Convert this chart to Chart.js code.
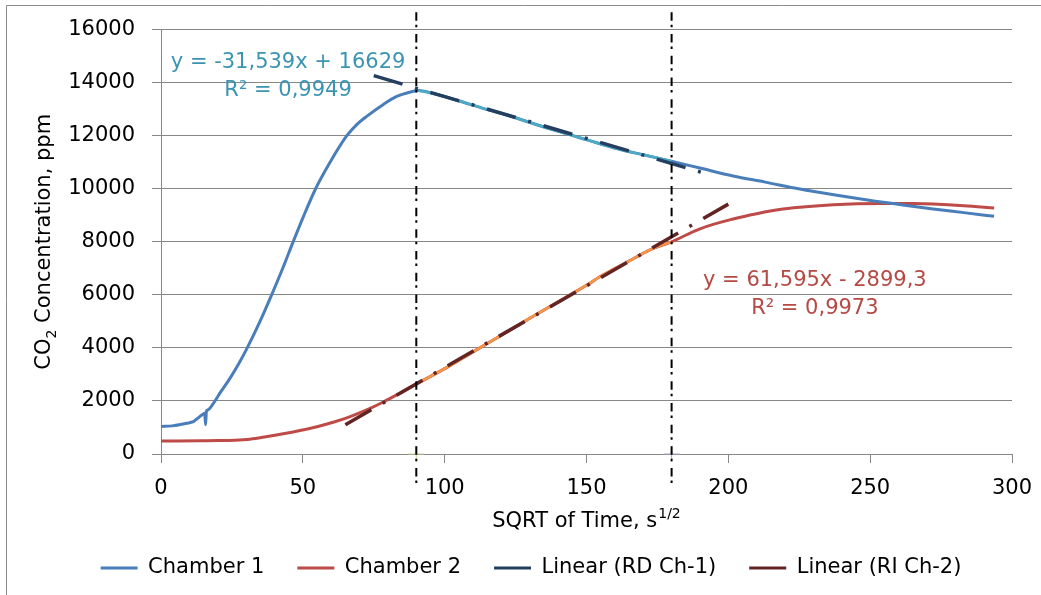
<!DOCTYPE html>
<html>
<head>
<meta charset="utf-8">
<script src="https://cdn.jsdelivr.net/npm/chart.js@4.4.0/dist/chart.umd.min.js"></script>
<style>
  html, body { margin: 0; padding: 0; background: #fff; }
  canvas { display: block; }
</style>
</head>
<body>
<canvas id="chart" width="1041" height="595"></canvas>
<script>
// values
const ch1X = [0, 4, 9, 11.4, 12.6, 14.9, 15.4, 15.7, 16.0, 16.5, 18.4, 21, 24.3, 27.5, 30.4, 34.9, 39, 43.1, 46.4, 50.2, 54.5, 59.6, 65.5, 69, 72.5, 78.4, 83.1, 87, 90.7, 97, 105.4, 113, 121.9, 130, 139.5, 150, 160.6, 170, 179.9, 190, 201.7, 213, 225.2, 240, 254.6, 272.2, 283, 293.7];
const ch1Y = [1040, 1060, 1160, 1220, 1320, 1510, 1540, 1100, 1600, 1660, 1900, 2330, 2850, 3420, 4000, 5000, 6000, 7050, 7950, 8950, 10000, 11000, 12000, 12420, 12730, 13180, 13480, 13620, 13700, 13560, 13300, 13050, 12780, 12500, 12180, 11850, 11520, 11280, 11040, 10780, 10480, 10250, 9990, 9730, 9490, 9240, 9100, 8960];
const ch2X = [0, 15, 20, 26, 31.4, 37, 43.1, 49, 55, 60.7, 66, 72.5, 78.4, 84, 90.1, 101.9, 110, 120, 130, 140, 150, 154.7, 166.5, 172, 179.8, 190, 201.7, 210, 219.3, 237, 254.6, 265, 272.2, 283, 293.7];
const ch2Y = [490, 500, 505, 520, 560, 650, 762, 886, 1030, 1196, 1380, 1660, 1960, 2280, 2640, 3330, 3850, 4480, 5120, 5740, 6360, 6680, 7360, 7680, 7990, 8490, 8860, 9060, 9234, 9398, 9447, 9440, 9421, 9360, 9271];
// trendline ends (y = -31,539x + 16629 and y = 61,595x - 2899,3)
const rdTrendX = [75, 192];
const rdTrendY = [14264, 10573];
const riTrendX = [65, 200];
const riTrendY = [1104, 9420];
// fitting window limits
const limitX = [90, 180];
const limitY = [16650, -1300];
const xTicks = [0, 50, 100, 150, 200, 250, 300];
const yTicks = [0, 2000, 4000, 6000, 8000, 10000, 12000, 14000, 16000];
const seriesNames = ['Chamber 1', 'Chamber 2', 'Linear (RD Ch-1)', 'Linear (RI Ch-2)'];

const FONT = '"DejaVu Sans", Verdana, sans-serif';
const pts = (xs, ys) => xs.map((x, i) => ({x: x, y: ys[i]}));
const inWindow = p => p.x >= limitX[0] && p.x <= limitX[1];

const ch1 = pts(ch1X, ch1Y);
const ch2 = pts(ch2X, ch2Y);

const decor = {
  id: 'decor',
  beforeDraw(chart) {
    const ctx = chart.ctx;
    ctx.save();
    ctx.fillStyle = '#fff';
    ctx.fillRect(0, 0, chart.width, chart.height);
    ctx.strokeStyle = '#8c8c8c';
    ctx.lineWidth = 1;
    ctx.beginPath();
    ctx.moveTo(6.5, chart.height);
    ctx.lineTo(6.5, 5.5);
    ctx.lineTo(chart.width, 5.5);
    ctx.stroke();
    ctx.restore();
  },
  afterDraw(chart) {
    const ctx = chart.ctx;
    const xs = chart.scales.x, ys = chart.scales.y;
    const area = chart.chartArea;
    ctx.save();
    ctx.textBaseline = 'alphabetic';
    ctx.fillStyle = '#000';

    // x axis title with superscript
    ctx.font = '21px ' + FONT;
    const main = 'SQRT of Time, s';
    const w1 = ctx.measureText(main).width;
    ctx.font = '14px ' + FONT;
    const w2 = ctx.measureText('1/2').width;
    let sx = (area.left + area.right) / 2 - (w1 + w2 + 1) / 2;
    ctx.textAlign = 'left';
    ctx.font = '21px ' + FONT;
    ctx.fillText(main, sx, 527);
    ctx.font = '14px ' + FONT;
    ctx.fillText('1/2', sx + w1 + 1, 518);

    // y axis title with subscript
    ctx.save();
    ctx.translate(50, (area.top + area.bottom) / 2);
    ctx.rotate(-Math.PI / 2);
    ctx.font = '21px ' + FONT;
    const a = ctx.measureText('CO').width;
    const c = ctx.measureText(' Concentration, ppm').width;
    ctx.font = '14px ' + FONT;
    const b = ctx.measureText('2').width;
    let tx = -(a + b + c) / 2;
    ctx.font = '21px ' + FONT;
    ctx.fillText('CO', tx, 0);
    ctx.font = '14px ' + FONT;
    ctx.fillText('2', tx + a, 6);
    ctx.font = '21px ' + FONT;
    ctx.fillText(' Concentration, ppm', tx + a + b, 0);
    ctx.restore();

    // trendline equations
    ctx.textAlign = 'center';
    ctx.textBaseline = 'middle';
    ctx.font = '21px ' + FONT;
    ctx.fillStyle = '#3a94b2';
    ctx.fillText('y = -31,539x + 16629', xs.getPixelForValue(44.8), ys.getPixelForValue(14740));
    ctx.fillText('R² = 0,9949', xs.getPixelForValue(44.8), ys.getPixelForValue(13700));
    ctx.fillStyle = '#b54944';
    ctx.fillText('y = 61,595x - 2899,3', xs.getPixelForValue(230.5), ys.getPixelForValue(6531));
    ctx.fillText('R² = 0,9973', xs.getPixelForValue(230.5), ys.getPixelForValue(5484));
    ctx.restore();
  }
};

const longDashDot = [30, 13, 3, 13];
const shortDashDot = [8.5, 4, 2.5, 6.7];

new Chart(document.getElementById('chart'), {
  type: 'scatter',
  data: {
    datasets: [
      {
        label: seriesNames[0], data: ch1, showLine: true,
        borderColor: '#4a7ebb', backgroundColor: '#4a7ebb',
        borderWidth: 3, pointRadius: 0, cubicInterpolationMode: 'monotone', order: 4
      },
      {
        label: seriesNames[1], data: ch2, showLine: true,
        borderColor: '#be4b48', backgroundColor: '#be4b48',
        borderWidth: 3, pointRadius: 0, cubicInterpolationMode: 'monotone', order: 4
      },
      {
        label: seriesNames[2], data: pts(rdTrendX, rdTrendY), showLine: true,
        borderColor: '#243f60', backgroundColor: '#243f60',
        borderWidth: 3.5, borderDash: longDashDot, pointRadius: 0, order: 1
      },
      {
        label: seriesNames[3], data: pts(riTrendX, riTrendY), showLine: true,
        borderColor: '#632523', backgroundColor: '#632523',
        borderWidth: 3.5, borderDash: longDashDot, pointRadius: 0, order: 1
      },
      {
        label: 'RD Ch-1', data: ch1.filter(inWindow), showLine: true,
        borderColor: '#4bacc6', borderWidth: 2.5, pointRadius: 0,
        cubicInterpolationMode: 'monotone', order: 3
      },
      {
        label: 'RI Ch-2', data: ch2.filter(inWindow), showLine: true,
        borderColor: '#f79646', borderWidth: 2.5, pointRadius: 0,
        cubicInterpolationMode: 'monotone', order: 3
      },
      {
        label: 'limit 1', data: pts([limitX[0], limitX[0]], limitY), showLine: true,
        borderColor: '#000', borderWidth: 2, borderDash: shortDashDot,
        pointRadius: 0, clip: false, order: 0
      },
      {
        label: 'limit 2', data: pts([limitX[1], limitX[1]], limitY), showLine: true,
        borderColor: '#000', borderWidth: 2, borderDash: shortDashDot,
        pointRadius: 0, clip: false, order: 0
      },
      {
        label: 'mark 1', data: [{x: limitX[0], y: 0}], pointStyle: 'cross',
        pointRadius: 8, borderColor: '#c3d69b', borderWidth: 1, clip: false, order: 2
      },
      {
        label: 'mark 2', data: [{x: limitX[1], y: 0}], pointStyle: 'cross',
        pointRadius: 8, borderColor: '#b3a2c7', borderWidth: 1, clip: false, order: 2
      }
    ]
  },
  options: {
    responsive: false,
    animation: false,
    events: [],
    layout: { padding: { left: 50, right: 29, top: 26, bottom: 6.5 } },
    scales: {
      x: {
        type: 'linear', min: 0, max: 300,
        afterBuildTicks: s => { s.ticks = xTicks.map(v => ({value: v})); },
        afterFit: s => { s.height = 70.5; },
        grid: { drawOnChartArea: false, drawTicks: true, tickLength: 9, color: '#878787' },
        border: { color: '#878787' },
        ticks: { font: { family: FONT, size: 21, lineHeight: 1.68 }, color: '#000', padding: 8,
                 maxRotation: 0, callback: v => String(v) }
      },
      y: {
        type: 'linear', min: 0, max: 16000,
        afterBuildTicks: s => { s.ticks = yTicks.map(v => ({value: v})); },
        afterFit: s => { s.width = 111; },
        grid: { color: '#878787', tickLength: 9 },
        border: { color: '#878787' },
        ticks: { font: { family: FONT, size: 21 }, color: '#000', padding: 17,
                 callback: v => String(v) }
      }
    },
    plugins: {
      tooltip: { enabled: false },
      legend: {
        position: 'bottom',
        labels: {
          font: { family: FONT, size: 21 }, color: '#000',
          boxWidth: 37, boxHeight: 3, padding: 33,
          filter: item => item.datasetIndex < 4,
          sort: (p, q) => p.datasetIndex - q.datasetIndex,
          generateLabels: chart => Chart.defaults.plugins.legend.labels.generateLabels(chart)
            .map(l => Object.assign(l, { fillStyle: l.strokeStyle, lineWidth: 0 }))
        }
      }
    }
  },
  plugins: [decor]
});
</script>
</body>
</html>
